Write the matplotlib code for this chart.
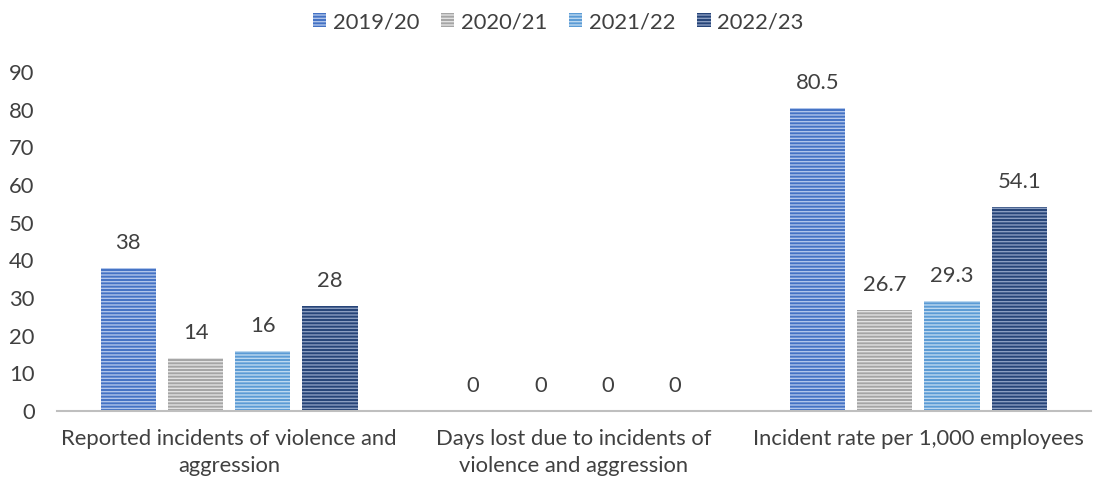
import matplotlib
matplotlib.use("Agg")
import matplotlib.pyplot as plt
import numpy as np

categories = ["Reported incidents of violence and\naggression",
              "Days lost due to incidents of\nviolence and aggression",
              "Incident rate per 1,000 employees"]
series_names = ["2019/20", "2020/21", "2021/22", "2022/23"]
values = {
    "2019/20": [38, 0, 80.5],
    "2020/21": [14, 0, 26.7],
    "2021/22": [16, 0, 29.3],
    "2022/23": [28, 0, 54.1],
}
labels = {
    "2019/20": ["38", "0", "80.5"],
    "2020/21": ["14", "0", "26.7"],
    "2021/22": ["16", "0", "29.3"],
    "2022/23": ["28", "0", "54.1"],
}
colors = ["#4472C4", "#A5A5A5", "#5B9BD5", "#264478"]
hatch_colors = ["#AFC4EA", "#E2E2E2", "#BCD8F0", "#8A9DC0"]
yticks = [0, 10, 20, 30, 40, 50, 60, 70, 80, 90]

plt.rcParams['font.family'] = ['Lato', 'DejaVu Sans']
plt.rcParams['hatch.linewidth'] = 1.0
text_color = "#404040"
fs = 15.8

fig = plt.figure(figsize=(10.94, 4.83), dpi=100)
ax = fig.add_axes([0.052, 0.149, 0.945, 0.702])

x = np.arange(len(categories))
step = 0.195
width = 0.16
for i, name in enumerate(series_names):
    pos = x + (i - 1.5) * step
    bars = ax.bar(pos, values[name], width, color=colors[i], edgecolor=hatch_colors[i],
                  hatch='-----', linewidth=0, label=name)
    for b, lab in zip(bars, labels[name]):
        ax.annotate(lab, (b.get_x() + b.get_width() / 2, b.get_height()),
                    xytext=(0, 18), textcoords='offset points', ha='center', va='center',
                    fontsize=fs, color=text_color)

ax.set_xlim(-0.5, 2.5)
ax.set_ylim(0, 90)
ax.set_yticks(yticks)
ax.set_xticks(x)
ax.set_xticklabels(categories, fontsize=fs, color=text_color, linespacing=1.45)
ax.tick_params(axis='y', labelsize=fs, labelcolor=text_color, length=0, pad=16)
ax.tick_params(axis='x', length=0, pad=13)
for s in ['top', 'right', 'left']:
    ax.spines[s].set_visible(False)
ax.spines['bottom'].set_color('#BFBFBF')
ax.spines['bottom'].set_linewidth(1.5)

leg = ax.legend(loc='upper center', bbox_to_anchor=(0.485, 1.235), ncol=4, frameon=False,
                fontsize=fs, handlelength=0.6, handleheight=0.6, columnspacing=1.0,
                handletextpad=0.3)
for t in leg.get_texts():
    t.set_color(text_color)

fig.savefig("out.png", dpi=100)
